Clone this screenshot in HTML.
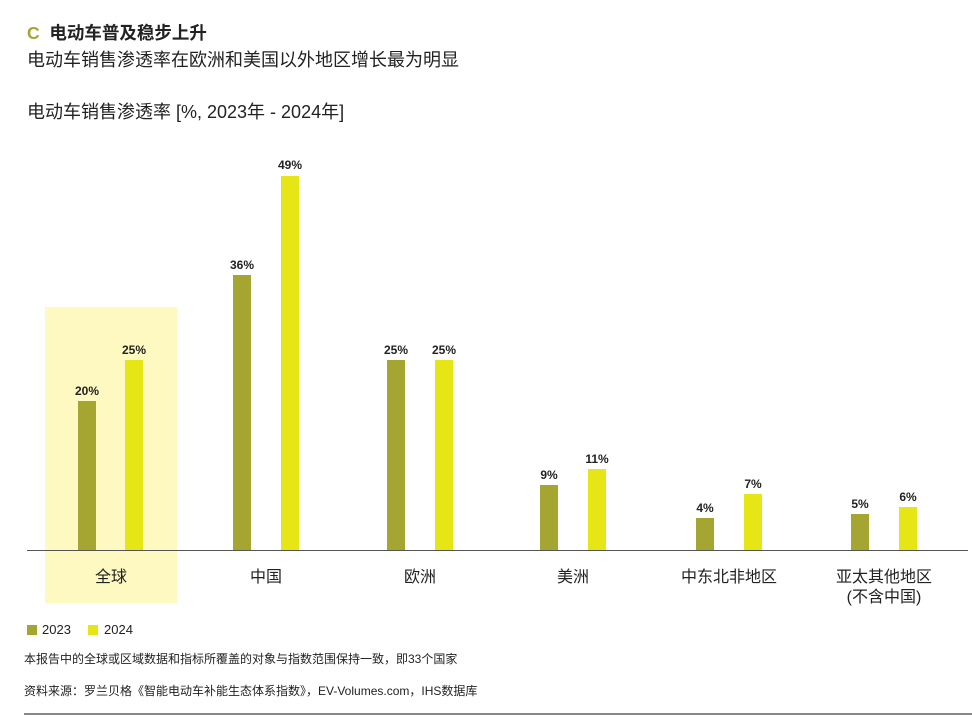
<!DOCTYPE html><html><head><meta charset="utf-8"><style>
body{margin:0;width:972px;height:717px;background:#fff;font-family:"Liberation Sans","Noto Sans CJK SC",sans-serif;color:#222;position:relative;overflow:hidden}
.a{position:absolute;white-space:nowrap}
.o{position:absolute;background:#a5a632;width:18px}
.y{position:absolute;background:#e6e617;width:18px}
.v{position:absolute;font-weight:bold;font-size:12px;width:60px;text-align:center}
.c{position:absolute;font-size:16px;width:140px;text-align:center;line-height:20px}
</style></head><body>
<div class="a" style="left:27px;top:20px;font-size:17.5px;font-weight:bold"><span style="color:#a5a632">C</span>&nbsp; 电动车普及稳步上升</div>
<div class="a" style="left:27px;top:46px;font-size:18px">电动车销售渗透率在欧洲和美国以外地区增长最为明显</div>
<div class="a" style="left:27px;top:98px;font-size:18px">电动车销售渗透率 [%, 2023年 - 2024年]</div>
<div class="a" style="left:45px;top:307px;width:132px;height:296px;background:#fef9c0"></div>
<div class="a" style="left:27px;top:550px;width:941px;height:1px;background:#555"></div>
<div class="o" style="left:78px;top:401px;height:149px"></div><div class="y" style="left:125px;top:360px;height:190px"></div>
<div class="o" style="left:233px;top:275px;height:275px"></div><div class="y" style="left:281px;top:176px;height:374px"></div>
<div class="o" style="left:387px;top:360px;height:190px"></div><div class="y" style="left:435px;top:360px;height:190px"></div>
<div class="o" style="left:540px;top:485px;height:65px"></div><div class="y" style="left:588px;top:469px;height:81px"></div>
<div class="o" style="left:696px;top:518px;height:32px"></div><div class="y" style="left:744px;top:494px;height:56px"></div>
<div class="o" style="left:851px;top:514px;height:36px"></div><div class="y" style="left:899px;top:507px;height:43px"></div>
<div class="v" style="left:57px;top:384px">20%</div><div class="v" style="left:104px;top:343px">25%</div>
<div class="v" style="left:212px;top:258px">36%</div><div class="v" style="left:260px;top:158px">49%</div>
<div class="v" style="left:366px;top:343px">25%</div><div class="v" style="left:414px;top:343px">25%</div>
<div class="v" style="left:519px;top:468px">9%</div><div class="v" style="left:567px;top:452px">11%</div>
<div class="v" style="left:675px;top:501px">4%</div><div class="v" style="left:723px;top:477px">7%</div>
<div class="v" style="left:830px;top:497px">5%</div><div class="v" style="left:878px;top:490px">6%</div>
<div class="c" style="left:41px;top:568px">全球</div>
<div class="c" style="left:196px;top:568px">中国</div>
<div class="c" style="left:350px;top:568px">欧洲</div>
<div class="c" style="left:503px;top:568px">美洲</div>
<div class="c" style="left:659px;top:568px">中东北非地区</div>
<div class="c" style="left:814px;top:568px">亚太其他地区<br>(不含中国)</div>
<div class="a" style="left:27px;top:625px;width:10px;height:10px;background:#a5a632"></div>
<div class="a" style="left:42px;top:622px;font-size:13px">2023</div>
<div class="a" style="left:88px;top:625px;width:10px;height:10px;background:#e6e617"></div>
<div class="a" style="left:104px;top:622px;font-size:13px">2024</div>
<div class="a" style="left:24px;top:650px;font-size:12px">本报告中的全球或区域数据和指标所覆盖的对象与指数范围保持一致，即33个国家</div>
<div class="a" style="left:24px;top:682px;font-size:12px">资料来源：罗兰贝格《智能电动车补能生态体系指数》，EV-Volumes.com，IHS数据库</div>
<div class="a" style="left:24px;top:713px;width:948px;height:2px;background:#888"></div>
</body></html>
